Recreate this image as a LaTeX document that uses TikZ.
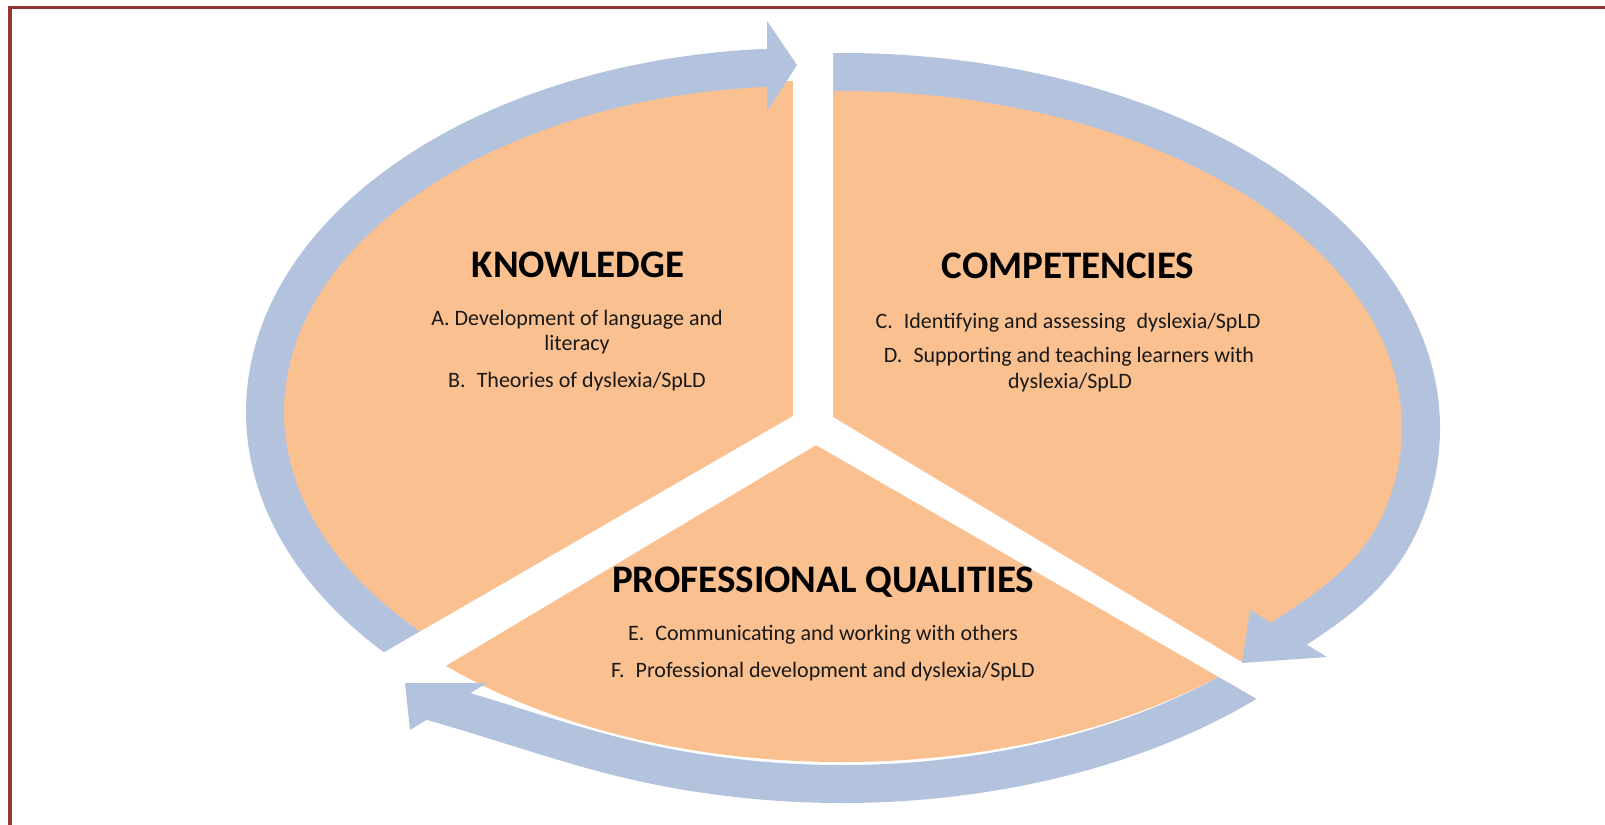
\documentclass[tikz,border=0pt]{standalone}
\usepackage{fontspec}
\setmainfont{Carlito}
\usetikzlibrary{arrows.meta,calc}
\definecolor{petal}{RGB}{250,192,144}
\definecolor{ringblue}{RGB}{180,195,221}
\definecolor{framered}{RGB}{150,55,53}
\begin{document}
\begin{tikzpicture}[x=0.5pt,y=-0.5pt,
  ringbody/.style={draw=ringblue, line width=19pt},
  ringhead/.style={fill=ringblue},
  gapfill/.style={fill=white},
  headtxt/.style={font=\fontsize{19.5pt}{22pt}\selectfont\bfseries, anchor=base, inner sep=0pt},
  itemtxt/.style={font=\fontsize{11pt}{13pt}\selectfont, anchor=base, inner sep=0pt, text=black!90}]
\useasboundingbox (0,0) rectangle (1605,824);
\coordinate (C) at (842,428);
\coordinate (O) at (842,424);
\coordinate (C1) at (803,412);
% orange disc (union of two ellipses mostly hidden under the ring)
\fill[petal] (O) ellipse [x radius=283.5pt, y radius=169pt];
\fill[petal] (C1) ellipse [x radius=262pt, y radius=165.5pt];
% ring bodies (clockwise)
\coordinate (h2b) at (1282,638);
\coordinate (h3b) at (430,701);
\draw[ringbody] ($(C1)+(224.3:269pt and 172.5pt)$) coordinate (a1s)
  arc[start angle=224.3, end angle=93, x radius=269pt, y radius=172.5pt];
\draw[ringbody] ($(C)+(93:289.5pt and 178pt)$) coordinate (a2s)
  arc[start angle=93, end angle=-10, x radius=289.5pt, y radius=178pt]
  to[out=254, in=32.4] (h2b);
\draw[ringbody] ($(C)+(-45:289.5pt and 178pt)$) coordinate (a3s)
  arc[start angle=-45, end angle=-100, x radius=289.5pt, y radius=178pt]
  to[out=173.8, in=-16] (h3b);
% white Y-shaped gap
\coordinate (g1) at (793,12);
\coordinate (g2) at (793,416);
\coordinate (g3) at (370,660.5);
\coordinate (g4) at (370,711);
\coordinate (g5) at (816,445);
\coordinate (g6) at (1330,741);
\coordinate (g7) at (1330,715);
\coordinate (g8) at (833,417);
\coordinate (g9) at (833,12);
\fill[gapfill] (g1) -- (g2) -- (g3) -- (g4) -- (g5) -- (g6) -- (g7) -- (g8) -- (g9) -- cycle;
% arrowheads
\coordinate (h1t) at (797,65);
\coordinate (h1u) at (767,21);
\coordinate (h1d) at (767,111);
\fill[ringhead] (h1t) -- (h1u) -- (h1d) -- cycle;
\coordinate (h2t) at (1242,663);
\coordinate (h2u) at (1250,610);
\coordinate (h2d) at (1327,657);
\fill[ringhead] (h2t) -- (h2u) -- (h2d) -- cycle;
\coordinate (h3t) at (405,683);
\coordinate (h3u) at (487,683);
\coordinate (h3d) at (410,730);
\fill[ringhead] (h3t) -- (h3u) -- (h3d) -- cycle;
% texts
\node[headtxt] (kn) at (578,277) {KNOWLEDGE};
\node[itemtxt] (ka) at (577,325) {A.~Development of language and};
\node[itemtxt] (ka2) at (577,350) {literacy};
\node[itemtxt] (kb) at (577,387) {B.\enspace Theories of dyslexia/SpLD};
\node[headtxt] (co) at (1068,278) {COMPETENCIES};
\node[itemtxt] (cc) at (1068,328) {C.\enspace Identifying and assessing\enspace dyslexia/SpLD};
\node[itemtxt] (cd) at (1069,362) {D.\enspace Supporting and teaching learners with};
\node[itemtxt] (cd2) at (1070,388) {dyslexia/SpLD};
\node[headtxt] (pq) at (823,592) {PROFESSIONAL QUALITIES};
\node[itemtxt] (pe) at (823,640) {E.\enspace Communicating and working with others};
\node[itemtxt] (pf) at (823,677) {F.\enspace Professional development and dyslexia/SpLD};
% frame
\coordinate (fb) at (10,830);
\coordinate (fc) at (10,7.5);
\coordinate (fr) at (1610,7.5);
\draw[framered, line width=1.8pt] (fb) -- (fc) -- (fr);
\end{tikzpicture}
\end{document}
